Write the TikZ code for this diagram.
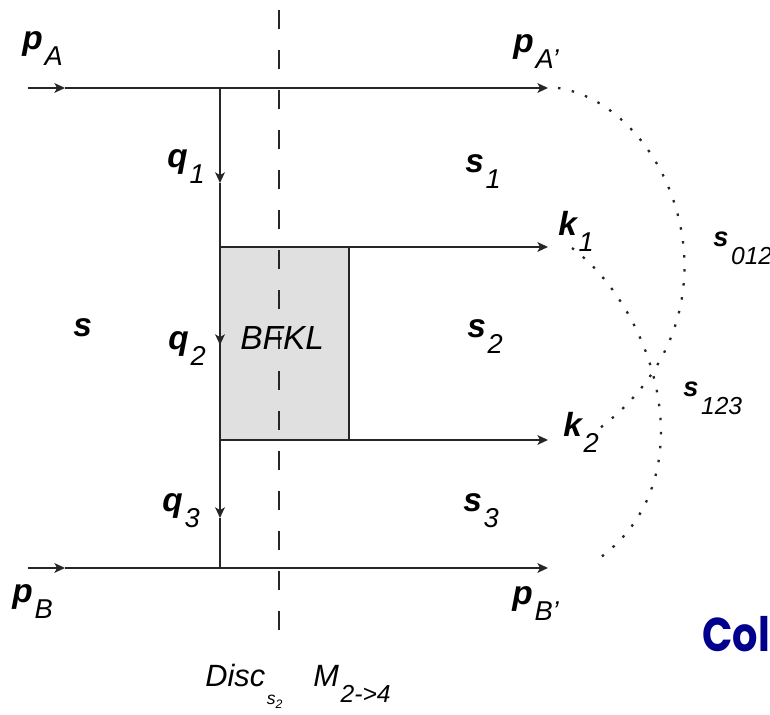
\documentclass[tikz,border=0pt]{standalone}
\usepackage{fontspec}
\setmainfont{Liberation Sans}
\newfontfamily\colfont{Poppins}
\usepackage{xcolor}
\usepackage{tikz}
\usetikzlibrary{positioning, arrows.meta, calc}

\definecolor{slidenavy}{RGB}{0,0,140}

% Momentum / invariant label: main letter bold italic, index lowered and thin
\newcommand{\kinlabel}[4]{%
    \node (#1) at #2 [anchor=base west, inner sep=0pt]
        {\fontsize{19}{19}\selectfont\bfseries\itshape #3\kern1pt%
         \raisebox{-9pt}{\fontsize{15.5}{15.5}\selectfont\mdseries\itshape #4}};
}
\newcommand{\invlabel}[4]{%
    \node (#1) at #2 [anchor=base west, inner sep=0pt]
        {\fontsize{15.5}{15.5}\selectfont\bfseries\itshape #3\kern1.5pt%
         \raisebox{-10pt}{\fontsize{14}{14}\selectfont\mdseries\itshape #4}};
}

\begin{document}
\begin{tikzpicture}[
        >={Stealth[length=6pt, width=5.5pt, inset=1.5pt]},
        line_style/.style={line width=1.1pt, draw=black!85},
        arrow_style/.style={->, line width=1.1pt, draw=black!85},
        cut_style/.style={line width=1.1pt, draw=black!85, dash pattern=on 10.8pt off 12pt},
        dot_style/.style={line width=1.3pt, draw=black!85, dash pattern=on 1.4pt off 6.6pt},
        bfkl_box/.style={draw=black!85, line width=1.1pt, fill=black!12, outer sep=0pt,
                         minimum width=2.58cm, minimum height=3.86cm, inner sep=0pt}
    ]

    \useasboundingbox (0,0) rectangle (15.4,14.3);

    % =========================================================================
    % 1. COORDINATES OF THE LADDER
    % =========================================================================
    \coordinate (pAin)  at (0.56, 12.54);
    \coordinate (pAmid) at (1.30, 12.54);
    \coordinate (pAout) at (10.96, 12.54);
    \coordinate (pBin)  at (0.56, 2.94);
    \coordinate (pBmid) at (1.30, 2.94);
    \coordinate (pBout) at (10.96, 2.94);

    \coordinate (vtop)  at (4.40, 12.54);
    \coordinate (q1arr) at (4.40, 10.64);
    \coordinate (q2arr) at (4.40, 7.40);
    \coordinate (q3arr) at (4.40, 3.94);
    \coordinate (vbot)  at (4.40, 2.94);

    \coordinate (k1out) at (10.96, 9.36);
    \coordinate (k2out) at (10.96, 5.50);

    \coordinate (cuttop) at (5.58, 14.10);
    \coordinate (cutbot) at (5.58, 1.70);

    % BFKL block
    \node[bfkl_box] (bfkl) at (5.69, 7.43) {};

    % =========================================================================
    % 2. LINES AND ARROWS
    % =========================================================================

    % Incoming / outgoing particles
    \draw[arrow_style] (pAin) -- (pAmid);
    \draw[arrow_style] (pAmid) -- (pAout);
    \draw[arrow_style] (pBin) -- (pBmid);
    \draw[arrow_style] (pBmid) -- (pBout);

    % t-channel exchange
    \draw[arrow_style] (vtop) -- (q1arr);
    \draw[line_style]  (q1arr) -- (bfkl.north west);
    \draw[arrow_style] (bfkl.north west) -- (q2arr);
    \draw[line_style]  (q2arr) -- (bfkl.south west);
    \draw[arrow_style] (bfkl.south west) -- (q3arr);
    \draw[line_style]  (q3arr) -- (vbot);

    % Produced particles
    \draw[arrow_style] (bfkl.north west) -- (k1out);
    \draw[arrow_style] (bfkl.south west) -- (k2out);

    % Discontinuity cut
    \draw[cut_style] (cuttop) -- (cutbot);

    \node[font=\fontsize{19}{19}\selectfont\itshape, anchor=base west, inner sep=0pt]
        (bfkltxt) at (4.80, 7.30) {BFKL};

    % =========================================================================
    % 3. DOTTED INVARIANT ARCS
    % =========================================================================
    \coordinate (arcAa) at (11.16, 12.54);
    \coordinate (arcAb) at (12.00, 5.74);
    \coordinate (arcBa) at (11.44, 9.34);
    \coordinate (arcBb) at (11.94, 3.10);

    \draw[dot_style] (arcAa) .. controls (13.40, 12.20) and (15.10, 8.10) .. (arcAb);
    \draw[dot_style] (arcBa) .. controls (13.10, 8.10) and (14.20, 4.70) .. (arcBb);

    % =========================================================================
    % 4. LABELS
    % =========================================================================
    \kinlabel{pA}{(0.44, 13.30)}{p}{A}
    \kinlabel{pAp}{(10.26, 13.24)}{p}{A'}
    \kinlabel{pB}{(0.24, 2.24)}{p}{B}
    \kinlabel{pBp}{(10.24, 2.20)}{p}{B'}

    \kinlabel{q1}{(3.34, 10.94)}{q}{1}
    \kinlabel{q2}{(3.36, 7.30)}{q}{2}
    \kinlabel{q3}{(3.24, 4.06)}{q}{3}

    \kinlabel{s1}{(9.30, 10.84)}{s}{1}
    \kinlabel{s2}{(9.34, 7.54)}{s}{2}
    \kinlabel{s3}{(9.26, 4.06)}{s}{3}

    \kinlabel{k1}{(11.16, 9.58)}{k}{1}
    \kinlabel{k2}{(11.26, 5.56)}{k}{2}

    \invlabel{s012}{(14.26, 9.36)}{s}{012}
    \invlabel{s123}{(13.66, 6.36)}{s}{123}

    \node (stot) at (1.46, 7.56) [anchor=base west, inner sep=0pt]
        {\fontsize{19}{19}\selectfont\bfseries\itshape s};

    % Caption under the cut
    \node (disc) at (4.10, 0.56) [anchor=base west, inner sep=0pt]
        {\fontsize{17.5}{17.5}\selectfont\itshape Disc\kern1pt%
         \raisebox{-10pt}{\fontsize{10}{10}\selectfont s\raisebox{-2pt}{\fontsize{7}{7}\selectfont 2}}};
    \node (amp) at (6.26, 0.56) [anchor=base west, inner sep=0pt]
        {\fontsize{17.5}{17.5}\selectfont\itshape M\kern1pt%
         \raisebox{-9pt}{\fontsize{14}{14}\selectfont 2-{}>4}};

    \node (col) at (14.04, 1.26) [anchor=base west, inner sep=0pt, text=slidenavy]
        {\scalebox{0.84}[1]{\colfont\bfseries\fontsize{27}{27}\selectfont Col}};

\end{tikzpicture}
\end{document}
